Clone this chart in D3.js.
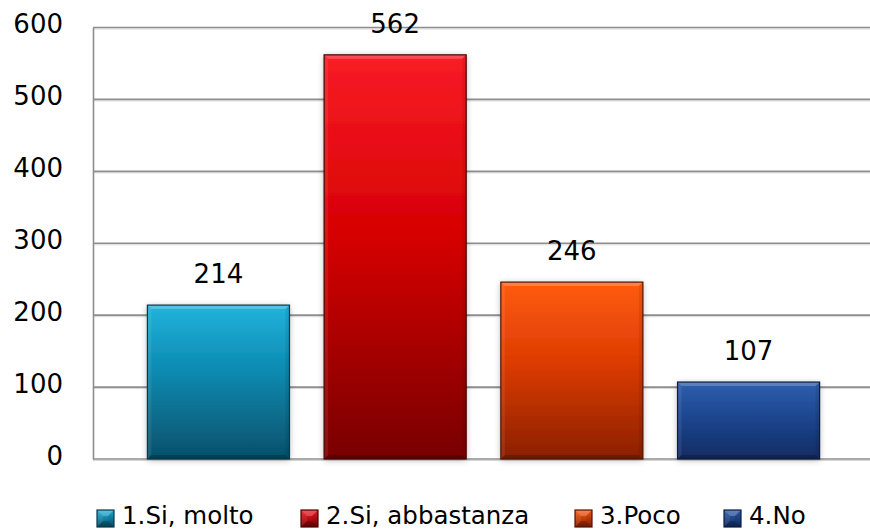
<!DOCTYPE html>
<html>
<head>
<meta charset="utf-8">
<script src="https://cdn.jsdelivr.net/npm/d3@7"></script>
<style>
  html, body { margin: 0; padding: 0; background: #fff; }
  svg { display: block; font-family: "DejaVu Sans", "Noto Sans", sans-serif; }
</style>
</head>
<body>
<svg id="chart" width="870" height="531"></svg>
<script>
// Survey answers and their counts
const categories = ["1.Si, molto", "2.Si, abbastanza", "3.Poco", "4.No"];
const values = [214, 562, 246, 107];
const yTicks = [0, 100, 200, 300, 400, 500, 600];

// Gradient stops per bar: top, middle, bottom, outline
const barColors = [
  ["#22b3dc", "#0a88ae", "#06506a", "#07394a"],
  ["#f81c26", "#d60002", "#780000", "#4a0000"],
  ["#ff5c12", "#dd3c02", "#8a2000", "#521200"],
  ["#2f5fae", "#1d4690", "#112c62", "#0b1d40"]
];

// Left edge of each legend entry's swatch
const legendX = [97, 301, 575, 724];

const plot = { left: 93, right: 870, top: 27.5, bottom: 459 };

const svg = d3.select("#chart");
const defs = svg.append("defs");

const shadow = defs.append("filter").attr("id", "barShadow")
  .attr("x", "-20%").attr("y", "-20%").attr("width", "140%").attr("height", "140%");
shadow.append("feDropShadow").attr("dx", 0).attr("dy", 1)
  .attr("stdDeviation", 3).attr("flood-color", "#000").attr("flood-opacity", 0.3);

barColors.forEach((c, i) => {
  const g = defs.append("linearGradient").attr("id", "grad" + i)
    .attr("x1", 0).attr("y1", 0).attr("x2", 0).attr("y2", 1);
  g.append("stop").attr("offset", "0%").attr("stop-color", c[0]);
  g.append("stop").attr("offset", "45%").attr("stop-color", c[1]);
  g.append("stop").attr("offset", "100%").attr("stop-color", c[2]);
});

const x = d3.scaleBand().domain(categories)
  .range([plot.left + 2, plot.right + 2])
  .paddingInner(0.196).paddingOuter(0.2965);
const y = d3.scaleLinear().domain([0, 600]).range([plot.bottom, plot.top]);

// Gridlines
const grid = svg.append("g");
grid.selectAll("line.shade").data(yTicks).join("line")
  .attr("x1", plot.left).attr("x2", plot.right)
  .attr("y1", d => y(d) + 1.5).attr("y2", d => y(d) + 1.5)
  .attr("stroke", "#d8d8d8").attr("stroke-width", 1);
grid.selectAll("line.main").data(yTicks).join("line")
  .attr("x1", plot.left).attr("x2", plot.right)
  .attr("y1", d => y(d)).attr("y2", d => y(d))
  .attr("stroke", "#8e8e8e").attr("stroke-width", 1.6);

// Y axis
const yAxis = d3.axisLeft(y).tickValues(yTicks).tickSize(0).tickPadding(0);
const ay = svg.append("g").attr("transform", `translate(${plot.left},0)`).call(yAxis);
ay.select(".domain").attr("stroke", "#8e8e8e").attr("stroke-width", 1.6);
ay.selectAll("text")
  .attr("x", 63 - plot.left).attr("dy", null).attr("y", 5)
  .attr("text-anchor", "end")
  .attr("font-family", "DejaVu Sans, sans-serif")
  .attr("font-size", 26).attr("fill", "#000");

// Bars with bevelled edges
const bars = svg.append("g").selectAll("g.bar").data(values).join("g").attr("class", "bar");

function bevel(sel, x0, y0, w, h, b, outline) {
  const x1 = x0 + w, y1 = y0 + h;
  const polys = [
    { p: [[x0, y0], [x1, y0], [x1 - b, y0 + b], [x0 + b, y0 + b]], f: "#fff", o: 0.22 },
    { p: [[x0, y1], [x1, y1], [x1 - b, y1 - b], [x0 + b, y1 - b]], f: "#000", o: 0.22 },
    { p: [[x0, y0], [x0 + b, y0 + b], [x0 + b, y1 - b], [x0, y1]], f: "#fff", o: 0.08 },
    { p: [[x1, y0], [x1 - b, y0 + b], [x1 - b, y1 - b], [x1, y1]], f: "#000", o: 0.08 }
  ];
  sel.selectAll("polygon").data(polys).join("polygon")
    .attr("points", d => d.p.map(q => q.join(",")).join(" "))
    .attr("fill", d => d.f).attr("fill-opacity", d => d.o);
  sel.append("rect").attr("x", x0).attr("y", y0).attr("width", w).attr("height", h)
    .attr("fill", "none").attr("stroke", outline).attr("stroke-width", 1.2);
}

bars.each(function (v, i) {
  const g = d3.select(this);
  const x0 = x(categories[i]), w = x.bandwidth();
  const y0 = y(v), h = y(0) - y(v);
  g.append("rect").attr("x", x0).attr("y", y0).attr("width", w).attr("height", h)
    .attr("fill", `url(#grad${i})`).attr("filter", "url(#barShadow)");
  bevel(g.append("g"), x0, y0, w, h, 4, barColors[i][3]);
  g.append("text")
    .attr("x", x0 + w / 2).attr("y", y0 - 22)
    .attr("text-anchor", "middle")
    .attr("font-size", 26).attr("fill", "#000")
    .text(v);
});

// Legend
const legend = svg.append("g");
const mk = 17, legendY = 510;
categories.forEach((c, i) => {
  const lx = legendX[i];
  const item = legend.append("g");
  const mg = item.append("g");
  const gid = "lgrad" + i;
  const lg = defs.append("linearGradient").attr("id", gid)
    .attr("x1", 0).attr("y1", 0).attr("x2", 0).attr("y2", 1);
  lg.append("stop").attr("offset", "0%").attr("stop-color", barColors[i][0]);
  lg.append("stop").attr("offset", "100%").attr("stop-color", barColors[i][2]);
  mg.append("rect").attr("x", lx).attr("y", legendY).attr("width", mk).attr("height", mk)
    .attr("fill", `url(#${gid})`);
  bevel(mg, lx, legendY, mk, mk, 6, barColors[i][3]);
  item.append("text")
    .attr("x", lx + mk + 8).attr("y", 524)
    .attr("font-size", 24.5).attr("fill", "#000")
    .text(c);
});
</script>
</body>
</html>
